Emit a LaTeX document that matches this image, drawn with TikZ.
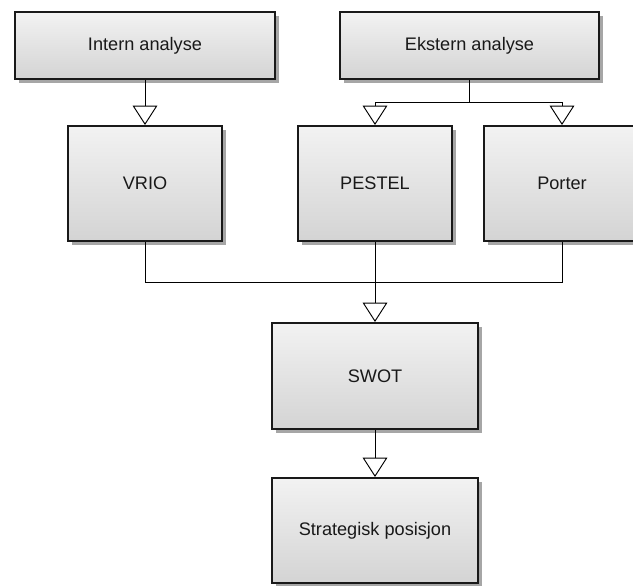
\documentclass[tikz,border=0pt]{standalone}
\usepackage{fontspec}
\setmainfont{Liberation Sans}
\usetikzlibrary{arrows.meta,shadows}

\tikzset{
  box/.style={draw=black!90, line width=1.7pt, inner sep=0pt,
    top color=black!5, bottom color=black!17, text=black!90,
    font=\fontsize{15.5}{18}\selectfont,
    drop shadow={shadow xshift=0.13cm, shadow yshift=-0.13cm,
      fill=black!35, opacity=1}},
  arr/.style={line width=0.8pt,
    -{Triangle[open,length=0.58cm,width=0.74cm,line width=0.8pt]}},
  line/.style={line width=0.8pt}
}

\begin{document}
\begin{tikzpicture}[x=0.03cm,y=-0.03cm]
                \clip (0,0) rectangle (633,586);
                \fill[white] (0,0) rectangle (633,586);

                % Top row: the two analyses
                \node[box, minimum width=7.8cm, minimum height=2.01cm] (intern) at (145,45.5) {Intern analyse};
                \node[box, minimum width=7.77cm, minimum height=2.01cm] (ekstern) at (469.5,45.5) {Ekstern analyse};

                % Middle row: the tools
                \node[box, minimum width=4.62cm, minimum height=3.45cm] (vrio) at (145,183.5) {VRIO};
                \node[box, minimum width=4.62cm, minimum height=3.45cm] (pestel) at (375,183.5) {PESTEL};
                \node[box, minimum width=4.68cm, minimum height=3.45cm] (porter) at (562,183.5) {Porter};

                % Bottom: SWOT and result
                \node[box, minimum width=6.18cm, minimum height=3.18cm] (swot) at (375,376) {SWOT};
                \node[box, minimum width=6.18cm, minimum height=3.15cm] (posisjon) at (375,530.5) {Strategisk posisjon};

                % Branch and join points
                \coordinate (split) at (ekstern.south |- 0,102);
                \coordinate (join) at (pestel.south |- 0,282);

                % Connectors
                \draw[arr] (intern) -- (vrio);
                \draw[line] (ekstern) -- (split);
                \draw[arr] (split) -| (pestel);
                \draw[arr] (split) -| (porter);
                \draw[line] (vrio) |- (join);
                \draw[line] (porter) |- (join);
                \draw[arr] (pestel) -- (swot);
                \draw[arr] (swot) -- (posisjon);
            \end{tikzpicture}
\end{document}
